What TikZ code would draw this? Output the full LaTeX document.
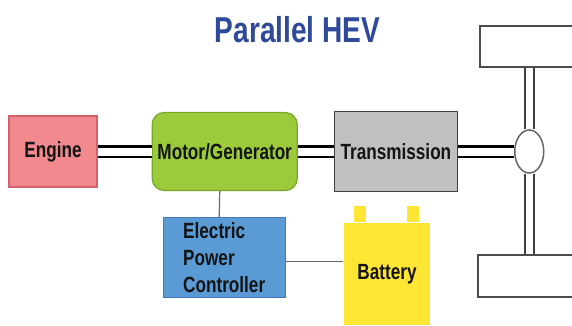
\documentclass[tikz,border=0pt]{standalone}
\usepackage{fontspec}
\newfontfamily\hevfont[FakeStretch=0.78]{Liberation Sans}
\usetikzlibrary{positioning,shapes.geometric}
\definecolor{titleblue}{RGB}{47,74,154}
\definecolor{enginefill}{RGB}{242,137,143}
\definecolor{engineline}{RGB}{214,96,108}
\definecolor{motorfill}{RGB}{155,203,59}
\definecolor{motorline}{RGB}{118,165,40}
\definecolor{transfill}{RGB}{192,192,192}
\definecolor{epcfill}{RGB}{90,155,213}
\definecolor{epcline}{RGB}{70,120,180}
\definecolor{battfill}{RGB}{255,230,53}
\definecolor{inktext}{RGB}{20,20,20}

\begin{document}
\begin{tikzpicture}[
  x=1pt, y=-1pt,
  part/.style={rectangle, inner sep=0pt, line width=1.2pt, text=inktext,
    font=\hevfont\bfseries\fontsize{22}{27}\selectfont},
  shaft/.style={line width=2.2pt, double=white, double distance=8pt},
  axle/.style={draw=black!75, line width=1.8pt, double=white, double distance=7pt},
  wire/.style={draw=black!60, line width=1.2pt},
  wheelbox/.style={rectangle, draw=black!70, fill=white, line width=1.5pt, inner sep=0pt},
  node distance=26pt
]
  \clip (0,0) rectangle (572,325);
  \fill[white] (0,0) rectangle (572,325);

  \node[font=\hevfont\bfseries\fontsize{36}{40}\selectfont, text=titleblue] (title) at (297.5,30) {Parallel HEV};

  % drive line
  \node[part, draw=engineline, fill=enginefill, minimum width=88pt, minimum height=71pt] (E) at (53,151.5) {Engine};
  \node[part, draw=motorline, fill=motorfill, rounded corners=12pt, minimum width=145pt, minimum height=78pt, right=54pt of E] (M) {Motor/Generator};
  \node[part, draw=black!75, fill=transfill, minimum width=123pt, minimum height=80pt, right=36pt of M] (T) {Transmission};
  \node[ellipse, draw=black!60, fill=white, line width=1.5pt, inner sep=0pt, minimum width=29pt, minimum height=43pt, right=56pt of T] (W) {};

  % wheels
  \node[wheelbox, minimum width=110pt, minimum height=41pt] (TW) at (535,46.5) {};
  \node[wheelbox, minimum width=112pt, minimum height=42pt] (BW) at (534,276) {};

  % electric side
  \node[part, draw=epcline, fill=epcfill, minimum width=122pt, minimum height=80pt, below=26pt of M, xshift=-0.5pt,
    align=left, text width=82pt] (P) {Electric\\Power\\Controller};
  \node[part, fill=battfill, minimum width=86pt, minimum height=102pt] (B) at (387,274) {Battery};
  \fill[battfill] ([xshift=11pt]B.north west) rectangle ++(12,-16);
  \fill[battfill] ([xshift=-12pt]B.north east) rectangle ++(-12,-16);

  \draw[shaft] (E.east) -- (M.west);
  \draw[shaft] (M.east) -- (T.west);
  \draw[shaft] (T.east) -- (W.west);
  \draw[axle] (TW.south -| W.center) -- (W.north);
  \draw[axle] (W.south) -- (BW.north -| W.center);
  \draw[wire] ([xshift=-5pt]M.south) -- ([xshift=-5pt]P.north);
  \draw[wire] ([yshift=-4pt]P.east) -- ([yshift=-4pt]P.east -| B.west);
\end{tikzpicture}
\end{document}
